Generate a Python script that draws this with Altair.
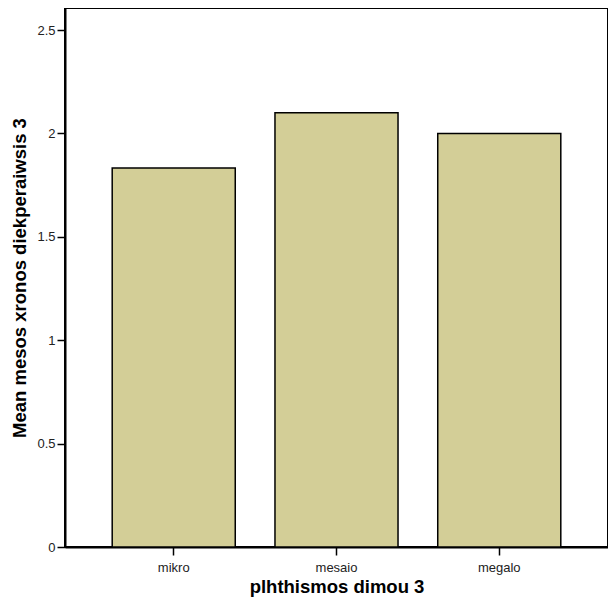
import altair as alt
import pandas as pd

categories = ["mikro", "mesaio", "megalo"]
means = [1.833, 2.1, 2.0]

df = pd.DataFrame({"cat": categories, "mean": means})

FONT = "Liberation Sans"

chart = alt.Chart(df).mark_bar(
    color="#D3CE97", stroke="black", strokeWidth=1.5
).encode(
    x=alt.X("cat:N", sort=categories, title="plhthismos dimou 3",
            scale=alt.Scale(paddingInner=0.244, paddingOuter=0.29),
            axis=alt.Axis(labelAngle=0, labelFontSize=13, labelFont=FONT, labelColor="#222",
                          titleFontSize=18.5, titleFont=FONT, titleFontWeight="bold",
                          titleColor="black", tickSize=8, tickColor="black", tickWidth=1.5,
                          domainColor="black", domainWidth=2, labelPadding=6, titlePadding=3)),
    y=alt.Y("mean:Q", title="Mean mesos xronos diekperaiwsis 3",
            scale=alt.Scale(domain=[0, 2.607], nice=False, zero=True),
            axis=alt.Axis(values=[0, 0.5, 1, 1.5, 2, 2.5], format="~g", grid=False,
                          labelFontSize=13, labelFont=FONT, labelColor="#222",
                          titleFontSize=18.5, titleFont=FONT, titleFontWeight="bold",
                          titleColor="black", tickSize=8, tickColor="black", tickWidth=1.5,
                          domainColor="black", domainWidth=2, labelPadding=2, titlePadding=7)),
).properties(
    width=543, height=539,
    autosize=alt.AutoSizeParams(type="none"),
    padding={"left": 57, "top": 0, "right": 0, "bottom": 53},
).configure_view(stroke="black", strokeWidth=2)

chart.save("out.html", embed_options={"renderer": "svg", "actions": False})
